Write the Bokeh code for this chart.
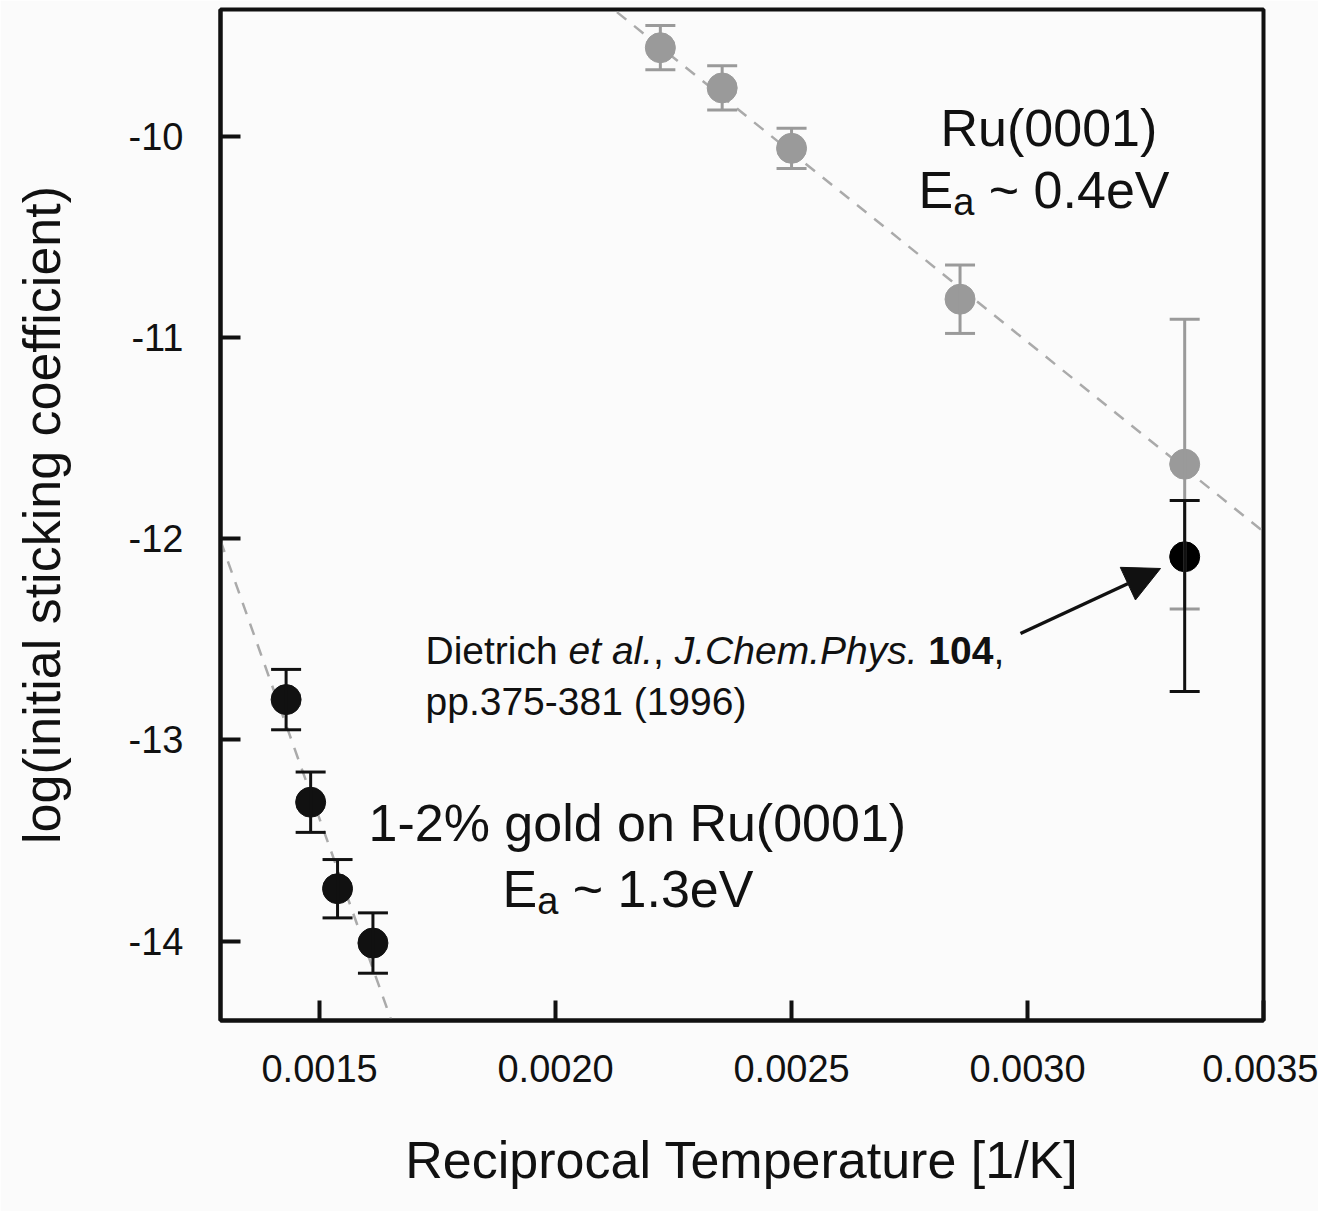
from bokeh.plotting import figure
from bokeh.models import (Range1d, FixedTicker, NumeralTickFormatter, Whisker, TeeHead,
                          ColumnDataSource, Arrow, NormalHead)
from bokeh.core.properties import value
from bokeh.embed import file_html
from bokeh.resources import INLINE

# ---------------- data ----------------
ru_x = [0.002222, 0.002353, 0.002500, 0.002857, 0.003333]
ru_y = [-9.56, -9.76, -10.06, -10.81, -11.63]
ru_err = [0.11, 0.11, 0.10, 0.17, 0.72]

au_x = [0.001429, 0.001481, 0.001538, 0.001613]
au_y = [-12.80, -13.31, -13.74, -14.01]
au_err = [0.15, 0.15, 0.145, 0.15]

lit_x = [0.003333]
lit_y = [-12.09]
lit_err_up = [0.28]
lit_err_down = [0.67]

ru_fit_x = [0.00213, 0.0035]
ru_fit_y = [-9.383, -11.965]
au_fit_x = [0.00129, 0.001652]
au_fit_y = [-12.01, -14.395]

x_ticks = [0.0015, 0.0020, 0.0025, 0.0030, 0.0035]
y_ticks = [-14, -13, -12, -11, -10]
y_tick_labels = ["-14", "-13", "-12", "-11", "-10"]

FONT = "Liberation Sans"
BG = "#fbfbfb"
INK = "#111111"
GREY = "#9a9a9a"

p = figure(width=1318, height=1211, output_backend="svg", toolbar_location=None,
           x_range=Range1d(0.00129, 0.0035), y_range=Range1d(-14.395, -9.37),
           min_border_left=220, min_border_right=55, min_border_top=9, min_border_bottom=191,
           background_fill_color=BG, border_fill_color=BG)
p.grid.visible = False
p.outline_line_color = INK
p.outline_line_width = 4

for ax in (p.xaxis[0], p.yaxis[0]):
    ax.axis_line_width = 4
    ax.axis_line_color = INK
    ax.major_tick_line_width = 4
    ax.major_tick_line_color = INK
    ax.major_tick_in = 20
    ax.major_tick_out = 0
    ax.minor_tick_line_color = None
    ax.major_label_text_font = FONT
    ax.major_label_text_font_size = "38px"
    ax.major_label_text_color = INK
    ax.axis_label_text_font = FONT
    ax.axis_label_text_font_size = "52px"
    ax.axis_label_text_font_style = "normal"
    ax.axis_label_text_color = INK

p.xaxis.ticker = FixedTicker(ticks=x_ticks)
p.xaxis.formatter = NumeralTickFormatter(format="0.0000")
p.yaxis.ticker = FixedTicker(ticks=y_ticks)
p.yaxis.major_label_overrides = {t: s for t, s in zip(y_ticks, y_tick_labels)}
p.xaxis.major_label_standoff = 34
p.yaxis.major_label_standoff = 37
p.xaxis.axis_label = "Reciprocal Temperature [1/K]"
p.yaxis.axis_label = "log(initial sticking coefficient)"
p.xaxis.axis_label_standoff = 46
p.yaxis.axis_label_standoff = 55

# fit lines
p.line(ru_fit_x, ru_fit_y, line_color="#aaaaaa", line_width=2.5, line_dash="12 10")
p.line(au_fit_x, au_fit_y, line_color="#aaaaaa", line_width=2.5, line_dash="12 10")

# error bars
def whisk(xs, lo, hi, color):
    src = ColumnDataSource(dict(x=xs, lower=lo, upper=hi))
    w = Whisker(base="x", lower="lower", upper="upper", source=src, dimension="height",
                line_color=color, line_width=3, level="glyph",
                upper_head=TeeHead(size=30, line_color=color, line_width=3),
                lower_head=TeeHead(size=30, line_color=color, line_width=3))
    p.add_layout(w)

whisk(ru_x, [y - e for y, e in zip(ru_y, ru_err)], [y + e for y, e in zip(ru_y, ru_err)], GREY)
p.scatter(ru_x, ru_y, size=30, fill_color=GREY, line_color=GREY)

whisk(au_x, [y - e for y, e in zip(au_y, au_err)], [y + e for y, e in zip(au_y, au_err)], INK)
whisk(lit_x, [y - e for y, e in zip(lit_y, lit_err_down)], [y + e for y, e in zip(lit_y, lit_err_up)], INK)
p.scatter(au_x, au_y, size=30, fill_color=INK, line_color=INK)
p.scatter(lit_x, lit_y, size=30, fill_color="#000000", line_color="#000000")

# ---------------- text annotations ----------------
AW = {' ': 278, '(': 333, ')': 333, ',': 278, '-': 333, '.': 278, '/': 278, '%': 889, '~': 584,
      '0': 556, '1': 556, '2': 556, '3': 556, '4': 556, '5': 556, '6': 556, '7': 556, '8': 556, '9': 556,
      'C': 722, 'D': 722, 'E': 667, 'J': 500, 'K': 667, 'P': 667, 'R': 722, 'T': 611, 'V': 667,
      'a': 556, 'c': 500, 'd': 556, 'e': 556, 'g': 556, 'h': 556, 'i': 222, 'l': 222, 'm': 833,
      'n': 556, 'o': 556, 'p': 556, 'r': 333, 's': 500, 't': 278, 'u': 556, 'y': 500}

def tw(s, size):
    return sum(AW.get(c, 556) for c in s) * size / 1000.0

def seg_text(x, y, segments):
    off = 0.0
    for s, style, size, dy in segments:
        lead = len(s) - len(s.lstrip(" "))
        off += tw(" " * lead, size)
        body = s.strip(" ")
        if body:
            p.text(x=[x], y=[y], text=[body], x_offset=off, y_offset=dy,
                   text_font=value(FONT), text_font_size=f"{size}px", text_font_style=style,
                   text_baseline="alphabetic", text_align="left", text_color=INK)
        off += tw(s.lstrip(" "), size)

BIG = 52
SUB = 38
seg_text(0.0028156, -9.9565, [("Ru(0001)", "normal", BIG, 0)])
seg_text(0.002769, -10.2696, [("E", "normal", BIG, 0), ("a", "normal", SUB, 12),
                              (" ~ 0.4eV", "normal", BIG, 0)])
seg_text(0.0016036, -13.411, [("1-2% gold on Ru(0001)", "normal", BIG, 0)])
seg_text(0.0018875, -13.739, [("E", "normal", BIG, 0), ("a", "normal", SUB, 12),
                              (" ~ 1.3eV", "normal", BIG, 0)])
CIT = 39
seg_text(0.0017244, -12.556, [("Dietrich ", "normal", CIT, 0), ("et al.", "italic", CIT, 0),
                              (", ", "normal", CIT, 0), ("J.Chem.Phys.", "italic", CIT, 0),
                              (" ", "normal", CIT, 0), ("104", "bold", CIT, 0),
                              (",", "normal", CIT, 0)])
seg_text(0.0017244, -12.809, [("pp.375-381 (1996)", "normal", CIT, 0)])

p.add_layout(Arrow(end=NormalHead(size=36, fill_color=INK, line_color=INK),
                   x_start=0.0029851, y_start=-12.4715, x_end=0.0032818, y_end=-12.1484,
                   line_width=3.5, line_color=INK))

open("out.html", "w").write(file_html(p, INLINE))
